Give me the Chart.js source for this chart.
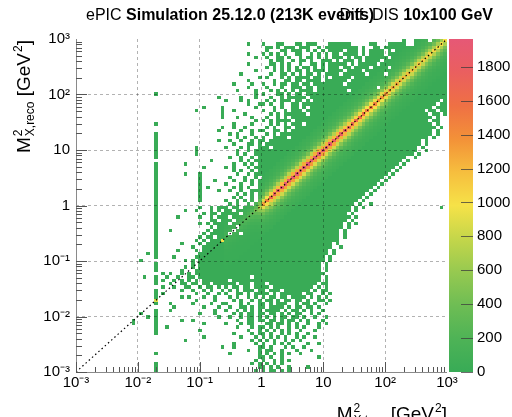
<!DOCTYPE html>
<html><head><meta charset="utf-8">
<script src="https://cdn.jsdelivr.net/npm/chart.js@4.4.1/dist/chart.umd.min.js"></script>
<style>html,body{margin:0;padding:0;background:#fff;overflow:hidden}</style>
</head><body>
<canvas id="c" width="512" height="417"></canvas>
<script>
// ---------------- DATA ----------------
const logBinMin = -3, logBinMax = 3, nBins = 100;   // 100 log bins per axis (10^-3 .. 10^3 GeV^2)
// occupancy map: row = reco bin j, 10 groups of 10 true bins; '#' filled, '.' empty, '-' = empty group
const occupancyRows = [
"99: - - - - - - - - ........#. .####.####",
"98: - - - - ......#... #...##...# #.###...## ####.....# #...#####. .#########",
"97: - - - - - .##.#.###. ###..#.### ######.#.. ##.####### ##########",
"96: - - - - - .#...##.## #.#.#.#.## ##.###.#.# ###.#.#### ##########",
"95: - - - - ......#... #.#.#.#..# #..#.#.#.# #.####.#.# ###.###### ##########",
"94: - - - - ........#. .#..##.#.. #.##.#.#.# ##.#.##.## ####.##### ##########",
"93: - - - - - ..#.##..#. ##.#..###. #.###.#.## ##.####### ##########",
"92: - - - - ......#... ..##.#.#.. #..##.#.## ###.#.#### #.######## ##########",
"91: - - - - - .#.#.#.#.# .##.#.#.## #.##.####. ####.##### ##########",
"90: - - - - ........#. ...#.#.#.# #.#.###.## ##.####.## ########## ##########",
"89: - - - - ....#..... ..#..##.#. #.##.#.### #.######.# ###.###### ##########",
"88: - - - - .........# .#...#.#.# ###.##.#.# ####.##### ########## ##########",
"87: - - - - ......#... ...#..##.# #.####.### ###.###### ########## ##########",
"86: - - - - ..#....#.. #..#.##.## .##.###### ##.####### ########## ##########",
"85: - - - - ......#... .#...#..## #.##.##### ########## #.######## ##########",
"84: - - - - ...#....#. ..#.#.#.#. ####.##### ###.###### ########## ##########",
"83: - - .#........ - ........#. #...##.#.# #.######## ########## ########## ##########",
"82: - - - ........#. ....#...#. ..#..#.### ##.####### ########## ########## ##########",
"81: - - - - #...#.#... .#.#.###.# #.#.###### ########## ########## ########.#",
"80: - - - - ......#..# #.#..#..## .######### ########## ########## #######.##",
"79: - - - ....#....# ........#. ...#.#..## .#.####### ########## ########## ######.###",
"78: - - - ..#......# ..#....... #..#..#.## #.######## ########## ########## ####.##.##",
"77: - - - .........# .....#.... ..#.#.#### ##.####### ########## ########## #####.##.#",
"76: - - - .........# ...#...#.. .#..#.#.## ########## ########## ########## ######.#..",
"75: - - - - ........#. #.#.####.# ########## ########## ########## #####.##..",
"74: - - .#........ - ..#....#.. ..#.#.#.## #.######## ########## ########## ######.#..",
"73: - - - .........# ..#..#.... .#.#..##.# ########## ########## ########## #######.#.",
"72: - - - ........#. ....#..#.# #..##.#.## ########## ########## ########## ######.#..",
"71: - - .#........ - .#.#...#.. .#.#.##### ########## ########## ########## ######.#..",
"70: - - .#........ - ...#.#..#. #..####.## ########## ########## ########## #####.#...",
"69: - - .#........ ........#. .#..#..#.# #.######## ########## ########## ########## ###.#.....",
"68: - - .#........ - ..#...##.# .######### ########## ########## ########## ###.#.....",
"67: - - .#........ ..#....... #...#.#..# ##.####### ########## ########## ########## ##.#......",
"66: - - .#........ ..#....... ...#..#.## ########## ########## ########## ########## ##..#.....",
"65: - - .#........ ..#....... ...#.#..## ########## ########## ########## ########## #.#.......",
"64: - - .#........ - .#..#..#.# ########## ########## ########## #########. .#........",
"63: - - - ......#... ....#.#.## ########## ########## ########## ########.# -",
"62: - - .#.......# - ..#..#.#.# ########## ########## ########## #######.#. -",
"61: - - .#........ ....#..... #.#...#.## ########## ########## ########## ######.#.. -",
"60: - - .#........ - ..#.#..#.# ########## ########## ########## #####.#... -",
"59: - - .#.......# ...#...... ...#..#.## ########## ########## ########## ####.#.... -",
"58: - - .#........ ...#...... .#...#..#. ########## ########## ########## ###.#..... -",
"57: - - .#........ ...#...#.. ..#..#.#.# ########## ########## ########## ##.#...... -",
"56: - - .#........ ...#...... #...#..#.# ########## ########## ########## #.#....... -",
"55: - - .#........ ...#.#.... ..#.#.#..# ########## ########## ########## .#........ -",
"54: - - .#........ ...#....#. .#..#..### ########## ########## #########. #......... -",
"53: - - .#........ ...#...... ...#.#.#.# ########## ########## ########.# - -",
"52: - - .#........ ...#...... ..#.#..#.# ########## ########## #######.#. - -",
"51: - - .#........ ...#...... #..#.#.#.# ########## ########## ######.#.. - -",
"50: - - .#........ - .#.#..#.## ########## ########## #####.#..# - -",
"49: - - .#........ ...#..#.## #.##.##### ########## ########## ####.#.#.. - ........#.",
"48: - - .#.......# ..#...#.#. ##.####### ########## ########## ####.#.... - -",
"47: - - .#........ ....#.##.# ####.##### ########## ########## ###.#..... - -",
"46: - - .#.....#.. ...#..#.## #.######## ########## ########## ####.#.... - -",
"45: - - .#........ ......##.# ##.####### ########## ########## ###.#..... - -",
"44: - - .#........ ...#.#.### #.######## ########## ########## ##.#.#.... - -",
"43: - - .#........ ......#.## ###.###### ########## ########## ##.#...... - -",
"42: - - .#...#.... .....#.### ##.####### ########## ########## #.#....... - -",
"41: - - .#........ ....#.#### #.##.##### ########## ########## #.#....... - -",
"40: - - .#........ ...#.##.## ########## ########## ########## #.#....... - -",
"39: - - .#........ ..#.#.#### ########## ########## ########## #......... - -",
"38: - - .#......#. ...#.##### ########## ########## #########. #......... - -",
"37: - - .#........ .#..###### ########## ########## #########. .#........ - -",
"36: - - .#.....#.. ..#.###### ########## ########## ########.# - - -",
"35: - .........# .#........ ...####### ########## ########## ########.# - - -",
"34: - - .#....#... ..######## ########## ########## #######.#. - - -",
"33: - .......#.. .........# .#.####### ########## ########## #######.#. - - -",
"32: - - .#........ .#.####### ########## ########## ######.#.. - - -",
"31: - - .#.......# .#.####### ########## ########## ######.#.. - - -",
"30: - - .#......#. ..######## ########## ########## ######.#.. - - -",
"29: - - ...#.#..#. #.######## ########## ########## #######... - - -",
"28: - ........#. .#..#..#.. ##.####### #######.## ########## ######.#.. - - -",
"27: - - .#.#..#.#. #.#.###### #.######## ########## ######.#.. - - -",
"26: - - .#...#..## .##.##.### ###.###.## #.######## #####.##.. - - -",
"25: - - ...#..#..# #..#.##.#. #.##.##.## ##.####### ####.#.#.. - - -",
"24: - - .#......#. .#..#.#..# .#.#.###.# #.###.#### ###.#.##.. - - -",
"23: - - .#.#...... ..#..#..#. #..##.#.## ##.#.##### #.##..#.#. - - -",
"22: - - .#......#. #...#..#.. .#.#..#.#. #.##.##.## ##.#.#.#.. - - -",
"21: - - .#........ ..#....#.. ..#.#..#.# .##.#.##.# #.#..##.#. - - -",
"20: - - .#...#.... .#....#..# #...#.#..# #.#.###..# .##.#..#.. - - -",
"19: - - ......#... ....#...#. .#..##.#.# #.####.#.# #.##.#.... - - -",
"18: - - .#...#.... .......#.. #..#.#.#.# .####.#.## .#.#..#... - - -",
"17: - .......#.. .#........ ...#...#.. ..#.#.##.# #.##.#.#.# #..#.#.... - - -",
"16: - .........# .#........ ........#. .#..#.##.# .#.#.##.## .#..#..#.. - - -",
"15: - .....#.... .#......#. .#........ ...#..##.# #.##.#.##. #.#...#... - - -",
"14: - .....#.... .#........ ....#..... #...#.##.. .##.##.#.# ..#..#.#.. - - -",
"13: - - .#..#..... - ...#...#.# #.#.#..#.# .#...#.... - - -",
"12: - - .#........ ...#...... ......#..# .#.#.#.#.. #...#..... - - -",
"11: - - .#........ - ..#....#.# #.#..#.#.# ..#....... - - -",
"10: - - - ....#..... ....#...#. #.#.#.#..# .#..#..... - - -",
"9: - - .........# - .......#.# .#.#..#.#. #......... - - -",
"8: - - - - ..#.....#. #..#.#.#.. ..#..#.... - - -",
"7: - - - .........# ..#......# #.#...#.#. .#........ - - -",
"6: - - - - ......#..# .##..#...# ...#...... - - -",
"5: - - .#........ - .#.......# .#.#.#.#.. #......... - - -",
"4: - - - - .........# #.#..#.... .....#.... - - -",
"3: - - - - ........#. #..#.#.#.. - - - -",
"2: - - .#........ - .......#.# .#.#.#.... - - - -",
"1: - - .#........ - .........# #.#.#..#.. ..#....... - - -",
"0: - - .#........ - ........#. #.##.#.#.. - - - -"
];
// counts on the diagonal (true bin = reco bin), true bins 40..99
const diagPeakFirstBin = 40;
const diagPeak = [120,130,150,170,190,220,260,320,450,750,
  1310,1490,1660,1745,1810,1840,1890,1905,1915,1935,
  1950,1955,1964,1948,1940,1925,1918,1895,1880,1855,
  1830,1805,1760,1725,1680,1650,1600,1570,1515,1480,
  1445,1405,1370,1335,1315,1280,1250,1225,1195,1180,
  1160,1135,1120,1095,1085,1055,1040,1015,1000,975];
const bandAbove = [0.64,0.38,0.22,0.13,0.08,0.05,0.03,0.02];        // reco above true, offsets 1..8
const bandBelow = [0.68,0.44,0.28,0.17,0.11,0.07,0.045,0.03,0.02];  // reco below true, offsets 1..9
const baseCount = 10;
const specialCells = [[21,21,900],[39,39,980]];                  // isolated hot diagonal bins
const zMax = 1964;
const zTicks = [0,200,400,600,800,1000,1200,1400,1600,1800];
const decadeValues = [1e-3,1e-2,1e-1,1,10,100,1000];
const decadeLabels = ['10\u207B\u00B3','10\u207B\u00B2','10\u207B\u00B9','1','10','10\u00B2','10\u00B3'];
const diagRef = [1e-3, 1e3];
const paletteStops = [[0.00,[56,171,86]],[0.10,[78,179,86]],[0.20,[110,189,84]],[0.30,[150,201,80]],
  [0.40,[196,214,74]],[0.50,[246,226,72]],[0.60,[246,190,62]],[0.70,[243,145,56]],
  [0.80,[239,112,68]],[0.90,[234,95,95]],[1.00,[230,88,118]]];

// ---------------- BUILD ----------------
const binW = (logBinMax - logBinMin) / nBins;
function parseRow(s){
  const [jStr, rest] = s.split(':');
  const groups = rest.trim().split(/\s+/);
  const cols = [];
  for (let g = 0; g < 10; g++) {
    let t = groups[g] || '-';
    if (t === '-') t = '..........';
    t = (t + '..........').slice(0, 10);
    for (const ch of t) cols.push(ch === '#');
  }
  return {j: parseInt(jStr, 10), cols};
}
function cellCount(i, j){
  for (const s of specialCells) if (s[0] === i && s[1] === j) return s[2];
  let v = baseCount;
  if (i >= diagPeakFirstBin) {
    const pk = diagPeak[i - diagPeakFirstBin];
    const d = j - i;
    if (d === 0) v = pk;
    else if (d > 0 && d <= bandAbove.length) v = baseCount + pk * bandAbove[d - 1];
    else if (d < 0 && -d <= bandBelow.length) v = baseCount + pk * bandBelow[-d - 1];
  }
  return v;
}
const cells = [];
for (const r of occupancyRows) {
  const {j, cols} = parseRow(r);
  cols.forEach((on, i) => {
    if (!on) return;
    cells.push({x: Math.pow(10, logBinMin + (i + 0.5) * binW), y: Math.pow(10, logBinMin + (j + 0.5) * binW), i, j, v: cellCount(i, j)});
  });
}
function colorFor(v){
  const f = Math.max(0, Math.min(1, v / zMax));
  for (let k = 1; k < paletteStops.length; k++) {
    const [f1, c1] = paletteStops[k], [f0, c0] = paletteStops[k - 1];
    if (f <= f1) {
      const t = (f - f0) / (f1 - f0);
      return `rgb(${Math.round(c0[0]+(c1[0]-c0[0])*t)},${Math.round(c0[1]+(c1[1]-c0[1])*t)},${Math.round(c0[2]+(c1[2]-c0[2])*t)})`;
    }
  }
  const c = paletteStops[paletteStops.length - 1][1];
  return `rgb(${c[0]},${c[1]},${c[2]})`;
}

const FAM = "'Liberation Sans', Arial, Helvetica, sans-serif";
Chart.defaults.font.family = FAM;

function layoutRich(ctx, items, base){
  let w = 0; const ops = [];
  for (const it of items) {
    if (it.t !== undefined) {
      ctx.font = `${it.b ? 'bold ' : ''}${base}px ${FAM}`;
      ops.push({t: it.t, font: ctx.font, x: w, dy: 0});
      w += ctx.measureText(it.t).width;
    } else {
      const fs = Math.round(base * 0.64);
      ctx.font = `${fs}px ${FAM}`;
      let adv = 0;
      if (it.sup) { ops.push({t: it.sup, font: ctx.font, x: w + 1, dy: -base * 0.42}); adv = Math.max(adv, ctx.measureText(it.sup).width + 1); }
      if (it.sub) { ops.push({t: it.sub, font: ctx.font, x: w + 1, dy: base * 0.22}); adv = Math.max(adv, ctx.measureText(it.sub).width + 1); }
      w += adv;
    }
  }
  return {w, ops};
}
function drawOps(ctx, L, x, y){
  ctx.textAlign = 'left'; ctx.textBaseline = 'alphabetic'; ctx.fillStyle = '#000';
  for (const o of L.ops) { ctx.font = o.font; ctx.fillText(o.t, x + o.x, y + o.dy); }
}

const heatPlugin = {
  id: 'heatCells',
  beforeDatasetsDraw(chart){
    const {ctx, chartArea: a} = chart;
    const xs = chart.scales.x, ys = chart.scales.y;
    const ds = chart.data.datasets[0].data;
    ctx.save();
    ctx.beginPath(); ctx.rect(a.left, a.top, a.right - a.left, a.bottom - a.top); ctx.clip();
    for (const p of ds) {
      const x0 = Math.round(xs.getPixelForValue(Math.pow(10, logBinMin + p.i * binW)));
      const x1 = Math.round(xs.getPixelForValue(Math.pow(10, logBinMin + (p.i + 1) * binW)));
      const y0 = Math.round(ys.getPixelForValue(Math.pow(10, logBinMin + p.j * binW)));
      const y1 = Math.round(ys.getPixelForValue(Math.pow(10, logBinMin + (p.j + 1) * binW)));
      ctx.fillStyle = colorFor(p.v);
      ctx.fillRect(x0, y1, x1 - x0, y0 - y1);
    }
    ctx.restore();
  }
};

const decoPlugin = {
  id: 'deco',
  afterDraw(chart){
    const {ctx, chartArea: a} = chart;
    const xs = chart.scales.x, ys = chart.scales.y, zs = chart.scales.z;
    ctx.save();
    // axis lines
    ctx.strokeStyle = '#8a8a8a'; ctx.lineWidth = 1;
    ctx.beginPath(); ctx.moveTo(a.left + 0.5, a.top); ctx.lineTo(a.left + 0.5, a.bottom + 0.5); ctx.lineTo(a.right, a.bottom + 0.5); ctx.stroke();
    // inner ticks
    ctx.strokeStyle = '#555';
    for (let e = -3; e <= 2; e++) {
      for (let k = 1; k <= 9; k++) {
        const v = k * Math.pow(10, e);
        const L = (k === 1) ? 10 : 5;
        const px = Math.round(xs.getPixelForValue(v)) + 0.5;
        ctx.beginPath(); ctx.moveTo(px, a.bottom); ctx.lineTo(px, a.bottom - L); ctx.stroke();
        const py = Math.round(ys.getPixelForValue(v)) + 0.5;
        ctx.beginPath(); ctx.moveTo(a.left, py); ctx.lineTo(a.left + L + 1, py); ctx.stroke();
      }
    }
    // colour bar
    const bx0 = a.right + 2, bx1 = a.right + 26;
    const top = zs.getPixelForValue(zMax), bot = zs.getPixelForValue(0);
    const g = ctx.createLinearGradient(0, bot, 0, top);
    for (const [f, c] of paletteStops) g.addColorStop(f, `rgb(${c[0]},${c[1]},${c[2]})`);
    ctx.fillStyle = g; ctx.fillRect(bx0, top, bx1 - bx0, bot - top);
    ctx.strokeStyle = 'rgba(60,60,60,0.75)';
    for (const t of zTicks) {
      const py = Math.round(zs.getPixelForValue(t)) + 0.5;
      ctx.beginPath(); ctx.moveTo(bx1 - 12, py); ctx.lineTo(bx1, py); ctx.stroke();
    }
    // titles
    const T1 = layoutRich(ctx, [{t: 'ePIC '}, {t: 'Simulation 25.12.0 (213K events)', b: true}], 16);
    drawOps(ctx, T1, 86, 20);
    const T2 = layoutRich(ctx, [{t: 'Diff. DIS '}, {t: '10x100 GeV', b: true}], 16);
    drawOps(ctx, T2, 493 - T2.w, 20);
    // x title
    const XT = layoutRich(ctx, [{t: 'M'}, {sup: '2', sub: 'X,true'}, {t: ' [GeV'}, {sup: '2'}, {t: ']'}], 19);
    drawOps(ctx, XT, a.right - XT.w, 420);
    // y title
    const YT = layoutRich(ctx, [{t: 'M'}, {sup: '2', sub: 'X,reco'}, {t: ' [GeV'}, {sup: '2'}, {t: ']'}], 19);
    ctx.translate(30, a.top + 1 + YT.w); ctx.rotate(-Math.PI / 2);
    drawOps(ctx, YT, 0, 0);
    ctx.restore();
  }
};

const gridColor = (ctx) => {
  const v = ctx.tick && ctx.tick.value;
  return (v === 1e-3 || v === 1e3) ? 'rgba(0,0,0,0)' : 'rgba(0,0,0,0.3)';
};

new Chart(document.getElementById('c'), {
  type: 'scatter',
  data: { datasets: [
    { label: 'counts', data: cells, pointRadius: 0, pointHoverRadius: 0, showLine: false },
    { type: 'line', label: 'y = x', data: diagRef.map(v => ({x: v, y: v})), borderColor: '#000', borderWidth: 1.2,
      borderDash: [1.5, 2.8], pointRadius: 0, fill: false, tension: 0 }
  ]},
  options: {
    responsive: false, animation: false, devicePixelRatio: 1,
    layout: { padding: { top: 27, left: 0, right: 0, bottom: 0 } },
    plugins: { legend: { display: false }, tooltip: { enabled: false } },
    scales: {
      x: {
        type: 'logarithmic', min: 1e-3, max: 1e3, position: 'bottom',
        afterFit(s){ s.height = 45; },
        afterBuildTicks(s){ s.ticks = decadeValues.map(v => ({value: v})); },
        ticks: { autoSkip: false, maxRotation: 0, minRotation: 0, padding: 2, color: '#000', font: { size: 15 },
          callback(v){ const k = decadeValues.indexOf(v); return k >= 0 ? decadeLabels[k] : ''; } },
        grid: { drawTicks: false, color: gridColor, lineWidth: 1, z: 1 },
        border: { display: false, dash: [3, 3] }
      },
      y: {
        type: 'logarithmic', min: 1e-3, max: 1e3, position: 'left',
        afterFit(s){ s.width = 76; },
        afterBuildTicks(s){ s.ticks = decadeValues.map(v => ({value: v})); },
        ticks: { autoSkip: false, padding: 6, color: '#000', font: { size: 15 },
          callback(v){ const k = decadeValues.indexOf(v); return k >= 0 ? decadeLabels[k] : ''; } },
        grid: { drawTicks: false, color: gridColor, lineWidth: 1, z: 1 },
        border: { display: false, dash: [3, 3] }
      },
      z: {
        type: 'linear', position: 'right', min: 0, max: zMax,
        afterFit(s){ s.width = 65; },
        afterBuildTicks(s){ s.ticks = zTicks.map(v => ({value: v})); },
        ticks: { autoSkip: false, padding: 30, color: '#000', font: { size: 15 }, callback(v){ return String(v); } },
        grid: { display: false, drawTicks: false, drawOnChartArea: false },
        border: { display: false }
      }
    }
  },
  plugins: [heatPlugin, decoPlugin]
});
</script>
</body></html>
